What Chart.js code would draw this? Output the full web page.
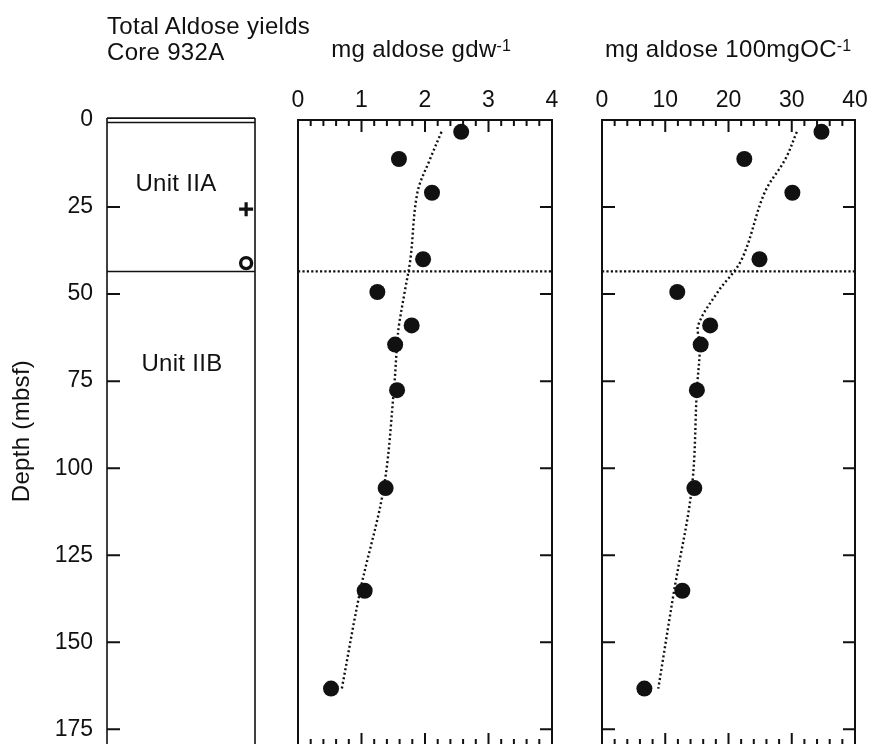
<!DOCTYPE html>
<html>
<head>
<meta charset="utf-8">
<script src="https://cdn.jsdelivr.net/npm/chart.js@4.4.0/dist/chart.umd.min.js"></script>
<style>
html, body { margin: 0; padding: 0; background: #fff; overflow: hidden; }
#wrap { position: relative; width: 869px; height: 744px; overflow: hidden;
        font-family: "Liberation Sans", Arial, Helvetica, sans-serif; color: #111; }
#wrap canvas { position: absolute; top: 0; }
.lbl { position: absolute; font-size: 24px; line-height: 24px; white-space: nowrap; letter-spacing: 0.3px; }
.ctr { width: 300px; text-align: center; }
.lbl sup { font-size: 16px; vertical-align: baseline; position: relative; top: -6px; letter-spacing: 0; }
#depthTitle { width: 200px; text-align: center; transform: rotate(-90deg); }
</style>
</head>
<body>
<div id="wrap">
  <canvas id="unitChart" width="270" height="750" style="left:0px"></canvas>
  <canvas id="dwChart" width="290" height="750" style="left:280px"></canvas>
  <canvas id="ocChart" width="290" height="750" style="left:580px"></canvas>

  <div class="lbl" style="left:107px; top:13.7px">Total Aldose yields</div>
  <div class="lbl" style="left:107px; top:39.7px">Core 932A</div>
  <div class="lbl ctr" style="left:271px; top:36.7px">mg aldose gdw<sup>-1</sup></div>
  <div class="lbl ctr" style="left:578px; top:36.7px">mg aldose 100mgOC<sup>-1</sup></div>
  <div class="lbl ctr" style="left:26px; top:171.2px">Unit IIA</div>
  <div class="lbl ctr" style="left:32px; top:351.2px">Unit IIB</div>
  <div class="lbl" id="depthTitle" style="left:-79.1px; top:419px">Depth (mbsf)</div>
</div>

<script>
// depth of each sample (mbsf)
var depthSamples = [3.4, 11.2, 20.9, 40.0, 49.4, 59.0, 64.5, 77.6, 105.7, 135.2, 163.3];
// mg aldose per g dry weight
var aldoseDw = [2.57, 1.59, 2.11, 1.97, 1.25, 1.79, 1.53, 1.56, 1.38, 1.05, 0.52];
var trendDw  = [2.26, 2.08, 1.88, 1.77, 1.68, 1.59, 1.56, 1.51, 1.35, 0.98, 0.69];
// mg aldose per 100 mg organic carbon
var aldoseOC = [34.7, 22.5, 30.1, 24.9, 11.9, 17.1, 15.6, 15.0, 14.6, 12.7, 6.7];
var trendOC  = [30.8, 29.0, 25.7, 22.1, 18.3, 15.2, 15.5, 15.0, 14.2, 11.4, 8.9];

var depthTicks = [0, 25, 50, 75, 100, 125, 150, 175];
var dwTicks = [0, 1, 2, 3, 4];
var ocTicks = [0, 10, 20, 30, 40];
var depthMax = 179.5;

var unitBoundary = 43.5;
var unitTopLines = [-0.55, 0.7];
var plusMarkDepth = [25.6];
var ringMarkDepth = [41.1];
var markX = 0.94;

var ink = '#111';
Chart.defaults.font.family = '"Liberation Sans", Arial, Helvetica, sans-serif';
Chart.defaults.color = ink;

function pts(xs, ys) {
	return xs.map(function(v, i) { return {x: v, y: ys[i]}; });
}
function hline(depth, x0, x1) {
	return [{x: x0, y: depth}, {x: x1, y: depth}];
}

// frame + inward tick marks, positions from the chart scales
function frameTicks(cfg) {
	return {
		id: 'frameTicks',
		afterDraw: function(chart) {
			var ctx = chart.ctx, a = chart.chartArea, xs = chart.scales.x, ys = chart.scales.y;
			ctx.save();
			ctx.strokeStyle = ink;
			ctx.lineWidth = cfg.frame;
			if (cfg.box) {
				ctx.strokeRect(a.left, a.top, a.right - a.left, a.bottom - a.top);
			} else {
				var t = ys.getPixelForValue(unitTopLines[0]);
				ctx.beginPath();
				ctx.moveTo(a.left, t); ctx.lineTo(a.left, a.bottom);
				ctx.moveTo(a.right, t); ctx.lineTo(a.right, a.bottom);
				ctx.stroke();
			}
			ctx.lineWidth = 2;
			ctx.beginPath();
			depthTicks.forEach(function(d) {
				if (d == 0) return;
				var y = ys.getPixelForValue(d);
				if (cfg.yLeft) { ctx.moveTo(a.left, y); ctx.lineTo(a.left + 13, y); }
				if (cfg.yRight) { ctx.moveTo(a.right, y); ctx.lineTo(a.right - 12, y); }
			});
			if (cfg.minor) {
				var n = Math.round((xs.max - xs.min) / cfg.minor);
				for (var i = 1; i < n; i++) {
					var v = xs.min + i * cfg.minor;
					var x = xs.getPixelForValue(v);
					var len = (i % cfg.perMajor == 0) ? 12 : 6;
					ctx.moveTo(x, a.top); ctx.lineTo(x, a.top + len);
					ctx.moveTo(x, a.bottom); ctx.lineTo(x, a.bottom - len);
				}
			}
			ctx.stroke();
			ctx.restore();
		}
	};
}

function depthAxis(show) {
	var ax = {
		type: 'linear', reverse: true, min: 0, max: depthMax, display: show,
		grid: {display: false, drawTicks: false}, border: {display: false},
		ticks: {stepSize: 25, includeBounds: false, padding: 14, color: ink, font: {size: 23}}
	};
	if (show) ax.afterFit = function(s) { s.width = 107; s.paddingTop = 0; s.paddingBottom = 0; };
	return ax;
}

function valueAxis(ticks) {
	return {
		type: 'linear', position: 'top', min: ticks[0], max: ticks[ticks.length - 1],
		grid: {display: false, drawTicks: false}, border: {display: false},
		ticks: {stepSize: ticks[1] - ticks[0], padding: 6, maxRotation: 0, autoSkip: false,
			color: ink, font: {size: 23}},
		afterFit: function(s) { s.height = 120; s.paddingLeft = 0; s.paddingRight = 0; }
	};
}

var commonPlugins = {legend: {display: false}, tooltip: {enabled: false}};

// left panel: lithologic units
new Chart(document.getElementById('unitChart'), {
	type: 'scatter',
	data: {
		datasets: [{
			data: pts([markX], plusMarkDepth), pointStyle: 'cross', pointRadius: 7,
			borderColor: ink, borderWidth: 3.2
		}, {
			data: pts([markX], ringMarkDepth), pointStyle: 'circle', pointRadius: 5.5,
			borderColor: ink, backgroundColor: '#fff', borderWidth: 3.4
		}, {
			data: hline(unitBoundary, 0, 1), showLine: true, pointRadius: 0,
			borderColor: ink, borderWidth: 1.6
		}, {
			data: hline(unitTopLines[0], 0, 1), showLine: true, pointRadius: 0, clip: false,
			borderColor: ink, borderWidth: 1.6
		}, {
			data: hline(unitTopLines[1], 0, 1), showLine: true, pointRadius: 0, clip: false,
			borderColor: ink, borderWidth: 1.6
		}]
	},
	options: {
		responsive: false, animation: false, events: [],
		layout: {autoPadding: false, padding: {left: 0, right: 15, top: 120, bottom: 5}},
		scales: {
			x: {type: 'linear', min: 0, max: 1, display: false},
			y: depthAxis(true)
		},
		plugins: commonPlugins
	},
	plugins: [frameTicks({box: false, frame: 1.6, yLeft: true})]
});

function profileChart(id, values, trend, ticks, minor, pad, yLeft) {
	return new Chart(document.getElementById(id), {
		type: 'scatter',
		data: {
			datasets: [{
				data: pts(values, depthSamples), pointRadius: 8, pointHoverRadius: 8,
				backgroundColor: ink, borderWidth: 0
			}, {
				data: pts(trend, depthSamples), showLine: true, pointRadius: 0, tension: 0.35,
				borderColor: ink, borderWidth: 2.4, borderDash: [2, 2.6]
			}, {
				data: hline(unitBoundary, ticks[0], ticks[ticks.length - 1]), showLine: true,
				pointRadius: 0, borderColor: ink, borderWidth: 2.2, borderDash: [2.2, 2.2]
			}]
		},
		options: {
			responsive: false, animation: false, events: [],
			layout: {autoPadding: false, padding: pad},
			scales: {
				x: valueAxis(ticks),
				y: depthAxis(false)
			},
			plugins: commonPlugins
		},
		plugins: [frameTicks({box: true, frame: 2, minor: minor, perMajor: 5, yLeft: yLeft, yRight: true})]
	});
}

profileChart('dwChart', aldoseDw, trendDw, dwTicks, 0.2, {left: 18, right: 18, top: 0, bottom: 5}, false);
profileChart('ocChart', aldoseOC, trendOC, ocTicks, 2, {left: 22, right: 15, top: 0, bottom: 5}, true);
</script>
</body>
</html>
